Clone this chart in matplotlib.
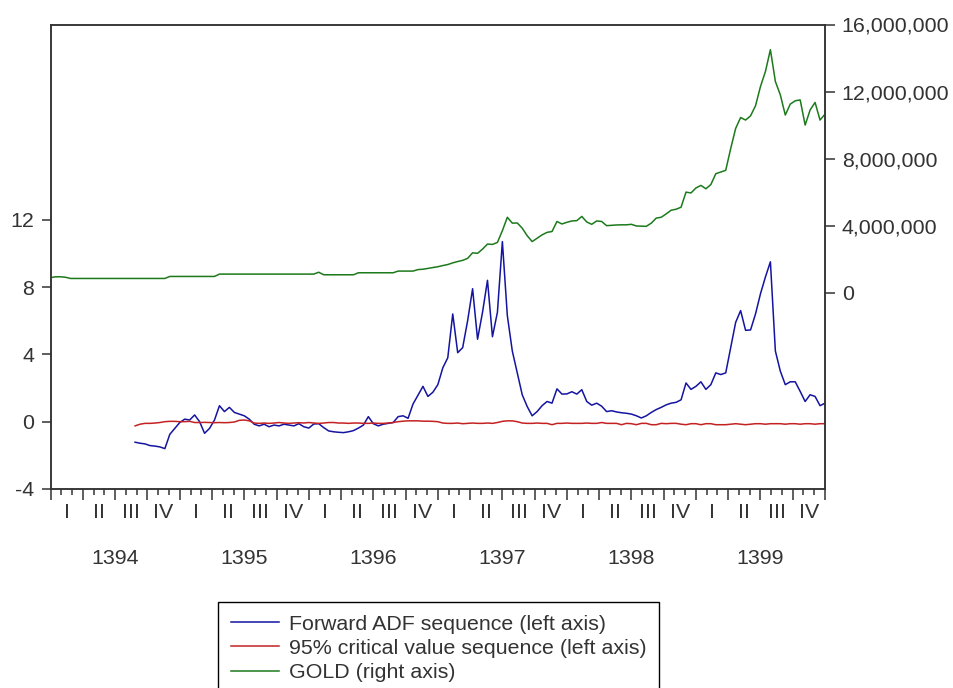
import matplotlib
matplotlib.use('Agg')
import matplotlib.pyplot as plt
from   matplotlib.ticker import FuncFormatter
import numpy as np

plt.rcParams['font.family']        = ['Liberation Sans', 'DejaVu Sans']
plt.rcParams['axes.unicode_minus'] = False

### Data: biweekly points, 26 per Persian year, from start of 1394
start_year   = 1394
per_year     = 26
adf_start    = 17          # first biweek of the ADF / critical value sequences

# GOLD price, millions (right axis)
gold_m = [
	0.90, 0.95, 0.95, 0.92, 0.85, 0.85, 0.85, 0.85, 0.85, 0.85,
	0.85, 0.85, 0.85, 0.85, 0.85, 0.85, 0.85, 0.85, 0.85, 0.85,
	0.85, 0.85, 0.85, 0.85, 0.97, 0.97, 0.97, 0.97, 0.97, 0.97,
	0.97, 0.97, 0.97, 0.97, 1.11, 1.11, 1.11, 1.11, 1.11, 1.11,
	1.11, 1.11, 1.11, 1.11, 1.11, 1.11, 1.11, 1.11, 1.11, 1.11,
	1.11, 1.11, 1.11, 1.11, 1.22, 1.07, 1.07, 1.07, 1.07, 1.07,
	1.07, 1.07, 1.19, 1.19, 1.19, 1.19, 1.19, 1.19, 1.19, 1.19,
	1.29, 1.29, 1.29, 1.29, 1.38, 1.40, 1.45, 1.50, 1.55, 1.62,
	1.68, 1.78, 1.86, 1.93, 2.05, 2.38, 2.35, 2.60, 2.90, 2.88,
	3.00, 3.70, 4.50, 4.15, 4.16, 3.85, 3.40, 3.05, 3.25, 3.45,
	3.60, 3.65, 4.25, 4.10, 4.20, 4.28, 4.30, 4.55, 4.22, 4.08,
	4.28, 4.25, 4.00, 4.02, 4.04, 4.05, 4.05, 4.08, 3.98, 3.97,
	3.96, 4.15, 4.45, 4.50, 4.70, 4.92, 4.98, 5.10, 6.00, 5.95,
	6.25, 6.40, 6.20, 6.45, 7.10, 7.20, 7.30, 8.60, 9.80, 10.45,
	10.30, 10.55, 11.15, 12.30, 13.20, 14.50, 12.60, 11.80, 10.60, 11.25,
	11.45, 11.50, 10.00, 10.90, 11.35, 10.30, 10.65,
]

# Forward ADF sequence (left axis)
adf = [
	-1.22, -1.28, -1.32, -1.42, -1.45, -1.50, -1.60, -0.75, -0.40, -0.05,
	0.15, 0.10, 0.40, 0.00, -0.69, -0.40, 0.10, 0.95, 0.60, 0.85,
	0.55, 0.45, 0.35, 0.15, -0.15, -0.25, -0.15, -0.30, -0.20, -0.25,
	-0.15, -0.20, -0.25, -0.12, -0.30, -0.38, -0.14, -0.12, -0.35, -0.55,
	-0.60, -0.63, -0.65, -0.60, -0.53, -0.38, -0.20, 0.30, -0.12, -0.25,
	-0.15, -0.10, -0.05, 0.30, 0.35, 0.20, 1.05, 1.58, 2.10, 1.50,
	1.75, 2.20, 3.20, 3.80, 6.40, 4.10, 4.40, 6.00, 7.90, 4.90,
	6.50, 8.40, 5.05, 6.50, 10.70, 6.30, 4.20, 2.90, 1.60, 0.90,
	0.35, 0.60, 0.95, 1.20, 1.10, 1.95, 1.64, 1.65, 1.78, 1.64,
	1.90, 1.20, 0.98, 1.10, 0.92, 0.60, 0.65, 0.58, 0.53, 0.50,
	0.45, 0.35, 0.22, 0.35, 0.55, 0.72, 0.85, 1.00, 1.10, 1.15,
	1.30, 2.30, 1.92, 2.10, 2.37, 1.92, 2.20, 2.90, 2.80, 2.90,
	4.40, 5.90, 6.60, 5.43, 5.45, 6.40, 7.60, 8.60, 9.50, 4.20,
	3.00, 2.20, 2.37, 2.37, 1.80, 1.20, 1.60, 1.50, 0.95, 1.10,
]

# 95% critical value sequence (left axis)
crit = [
	-0.25, -0.15, -0.10, -0.10, -0.08, -0.05, 0.00, 0.02, 0.02, 0.00,
	0.00, 0.02, -0.05, -0.05, -0.04, -0.05, -0.06, -0.05, -0.06, -0.05,
	-0.02, 0.08, 0.10, 0.05, -0.08, -0.10, -0.08, -0.10, -0.08, -0.05,
	-0.08, -0.10, -0.08, -0.06, -0.08, -0.05, -0.08, -0.10, -0.08, -0.05,
	-0.05, -0.08, -0.08, -0.10, -0.08, -0.08, -0.10, -0.10, -0.08, -0.10,
	-0.10, -0.08, -0.05, 0.00, 0.03, 0.05, 0.05, 0.05, 0.03, 0.03,
	0.02, 0.00, -0.08, -0.10, -0.10, -0.08, -0.12, -0.10, -0.08, -0.10,
	-0.10, -0.08, -0.10, -0.05, 0.02, 0.05, 0.05, 0.00, -0.08, -0.10,
	-0.10, -0.08, -0.10, -0.10, -0.18, -0.10, -0.10, -0.08, -0.10, -0.10,
	-0.10, -0.08, -0.10, -0.10, -0.05, -0.10, -0.10, -0.10, -0.18, -0.10,
	-0.12, -0.18, -0.10, -0.10, -0.18, -0.18, -0.10, -0.12, -0.10, -0.10,
	-0.15, -0.18, -0.12, -0.12, -0.18, -0.12, -0.12, -0.18, -0.18, -0.18,
	-0.15, -0.12, -0.15, -0.18, -0.15, -0.12, -0.12, -0.15, -0.12, -0.12,
	-0.12, -0.15, -0.12, -0.12, -0.15, -0.12, -0.12, -0.15, -0.12, -0.12,
]

years          = [1394, 1395, 1396, 1397, 1398, 1399]
quarter_labels = ['I', 'II', 'III', 'IV']
left_ticks     = [-4, 0, 4, 8, 12]
right_ticks    = [0, 4e6, 8e6, 12e6, 16e6]

labels = [
	'Forward ADF sequence (left axis)',
	'95% critical value sequence (left axis)',
	'GOLD (right axis)',
]

gold_x = start_year + np.arange(len(gold_m)) / per_year
adf_x  = gold_x[adf_start:adf_start + len(adf)]
gold   = np.array(gold_m) * 1e6

### Figure
W, H = 954, 688
fig  = plt.figure(figsize=(W / 100, H / 100), dpi=100)
x0, x1, y0, y1 = 50.7, 825.0, 24.5, 489.0
ax   = fig.add_axes([x0 / W, 1 - y1 / H, (x1 - x0) / W, (y1 - y0) / H])
ax2  = ax.twinx()

txt_col = '#333333'
spn_col = '#333333'
fs      = 15.4

l1, = ax.plot(adf_x, adf,  color='#1414a0', lw=1.1, label=labels[0])
l2, = ax.plot(adf_x, crit, color='#c42222', lw=1.1, label=labels[1])
l3, = ax2.plot(gold_x, gold, color='#1c7a1c', lw=1.1, label=labels[2])

ax.set_xlim(years[0], years[-1] + 1)
ax.set_ylim(-4, 23.6)
ax2.set_ylim(-11.71e6, 16e6)

ax.set_yticks(left_ticks)
ax2.set_yticks(right_ticks)
ax2.yaxis.set_major_formatter(FuncFormatter(lambda v, p: '{:,.0f}'.format(v)))

ax.set_xticks(np.arange(years[0], years[-1] + 1.001, 0.25))
ax.set_xticks(np.arange(years[0], years[-1] + 1.001, 1 / 12), minor=True)

ax.tick_params(axis='x', which='major', length=7.7, width=1.1, color=spn_col,
               labelbottom=False)
ax.tick_params(axis='x', which='minor', length=4.0, width=1.1, color=spn_col)
ax.tick_params(axis='y', length=6.5, width=1.1, pad=5.5, color=spn_col,
               labelsize=fs, labelcolor=txt_col)
ax2.tick_params(axis='y', length=7.0, width=1.1, pad=5.0, color=spn_col,
                labelsize=fs, labelcolor=txt_col)

for a in (ax, ax2):
	for s in a.spines.values():
		s.set_color(spn_col)
		s.set_linewidth(1.1)

### Quarter and year labels under the axis
ax_h = y1 - y0
trans = ax.get_xaxis_transform()
for yr in years:
	for q, lab in enumerate(quarter_labels):
		ax.text(yr + (q + 0.5) / 4, -24 / ax_h, lab, transform=trans,
		        ha='center', va='center', fontsize=fs, color=txt_col)
	ax.text(yr + 0.5, -70 / ax_h, str(yr), transform=trans,
	        ha='center', va='center', fontsize=fs, color=txt_col)

### Legend (box runs past the bottom edge, as in the original)
leg = fig.legend(
	[l1, l2, l3], labels,
	loc            = 'upper left',
	bbox_to_anchor = (218 / W, 1 - 602 / H),
	bbox_transform = fig.transFigure,
	borderaxespad  = 0,
	fancybox       = False,
	framealpha     = 1,
	edgecolor      = 'black',
	borderpad      = 0.6,
	labelspacing   = 0.24,
	handlelength   = 2.25,
	handletextpad  = 0.45,
	fontsize       = fs,
)
leg.get_frame().set_linewidth(1.0)
for t in leg.get_texts():
	t.set_color(txt_col)

fig.savefig('out.png', dpi=100)
